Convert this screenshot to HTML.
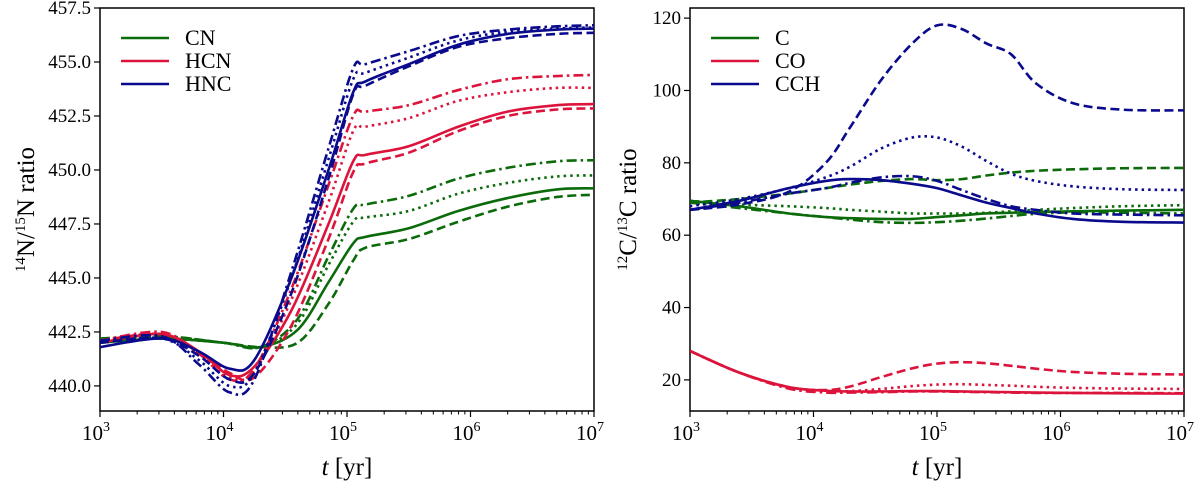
<!DOCTYPE html>
<html><head><meta charset="utf-8"><style>
body{margin:0;background:#fff;}
svg{font-family:"Liberation Serif",serif;}
</style></head><body>
<svg id="s" width="1200" height="484" xmlns="http://www.w3.org/2000/svg"></svg>
<script>
const xTicks=[3,4,5,6,7];
const leftYTicks=[440.0,442.5,445.0,447.5,450.0,452.5,455.0,457.5];
const rightYTicks=[20,40,60,80,100,120];
// left panel: 14N/15N
const cnSolidX=[3,3.5,4,4.3,4.6,4.85,5.05,5.15,5.5,5.9,6.3,6.7,7];
const cnSolidY=[442.0,442.2,442.0,441.8,442.6,444.8,446.6,446.9,447.3,448.1,448.7,449.1,449.15];
const cnDotY=[442.1,442.2,442.0,441.8,442.9,445.6,447.6,447.8,448.1,448.9,449.4,449.7,449.75];
const cnDashY=[442.1,442.3,442.0,441.8,442.0,443.8,445.8,446.4,446.8,447.6,448.3,448.75,448.85];
const cnDashDotY=[442.2,442.3,442.0,441.8,443.1,446.0,448.2,448.4,448.8,449.6,450.1,450.4,450.45];
const hcnX=[3,3.5,3.8,4.05,4.25,4.55,4.85,5.05,5.15,5.5,5.9,6.3,6.7,7];
const hcnSolidY=[442.0,442.4,441.6,440.5,440.9,443.5,447.5,450.4,450.7,451.1,452.0,452.7,453.0,453.05];
const hcnDotY=[442.1,442.4,441.5,440.4,440.7,444.0,448.5,451.8,452.0,452.4,453.2,453.6,453.8,453.8];
const hcnDashY=[442.1,442.4,441.6,440.6,440.4,442.8,446.8,449.9,450.3,450.8,451.8,452.5,452.8,452.85];
const hcnDashDotY=[442.1,442.5,441.5,440.3,440.8,444.5,449.3,452.5,452.7,453.0,453.7,454.2,454.35,454.4];
const hncX=[3,3.5,3.8,4.05,4.25,4.55,4.85,5.05,5.15,5.5,5.9,6.3,6.7,7];
const hncSolidY=[441.8,442.2,441.6,440.8,441.2,445.0,450.0,453.6,454.1,454.9,455.8,456.3,456.5,456.55];
const hncDotY=[442.0,442.2,441.2,440.0,440.6,445.0,450.5,454.2,454.5,455.2,456.0,456.4,456.55,456.6];
const hncDashY=[442.0,442.2,441.4,440.3,440.6,444.3,449.6,453.5,453.9,454.8,455.7,456.1,456.3,456.35];
const hncDashDotY=[442.1,442.3,441.0,439.7,440.3,445.3,451.0,454.7,454.9,455.5,456.2,456.5,456.65,456.7];
// right panel: 12C/13C
const rX=[3,3.4,3.8,4.1,4.3,4.55,4.8,5.0,5.2,5.4,5.6,5.8,6.1,6.5,7];
const cSolidY=[69.5,68,66,65,64.7,64.5,64.5,65,65.5,66,66.2,66.4,66.6,66.8,67];
const cDotY=[69.5,68.5,68,67.5,67,66.5,66,66,66,66.2,66.6,67,67.5,68,68.3];
const cDashY=[69,70,71.5,73,74,75,75.5,75.2,75.5,76.5,77.3,77.8,78.2,78.5,78.6];
const cDashDotY=[69,67.5,66,65,64.3,63.6,63.4,63.6,64,64.6,65.3,65.9,66.3,66.2,66];
const coSolidY=[28,22,18,17,16.8,16.8,16.9,16.9,16.8,16.7,16.6,16.5,16.4,16.3,16.2];
const coDotY=[28,22,18,17,16.9,17.5,18.3,18.7,18.8,18.6,18.4,18.1,17.8,17.6,17.5];
const coDashY=[28,22,18,17.2,18.2,20.8,23.2,24.5,24.9,24.6,23.9,23.1,22.2,21.7,21.5];
const coDashDotY=[28,22,17.6,16.5,16.5,16.6,16.8,16.8,16.7,16.6,16.5,16.4,16.4,16.4,16.3];
const cchSolidY=[67,69.5,73,75,75.5,75.2,74.2,73,71,69,67.5,66,64.5,63.7,63.5];
const cchDotY=[68,70,73,76,79,84,87,87,84.5,80.5,77,75,73.5,72.7,72.5];
const cchDashY=[67,68.5,72,80,90,103,113,118,117,113,110,102,96.5,94.7,94.5];
const cchDashDotY=[67,69,71.5,73,74.5,76,76.3,75,72.5,70,68,67,66,65.7,65.5];

const svg=document.getElementById('s');
const NS='http://www.w3.org/2000/svg';
function mk(tag,attrs,parent){const e=document.createElementNS(NS,tag);for(const k in attrs)e.setAttribute(k,attrs[k]);(parent||svg).appendChild(e);return e;}
const GREEN='#0b6b0b',RED='#dc143c',BLUE='#0a0a8c';
const dashes={solid:'',dot:'2.5,4',dash:'9,4.5',dashdot:'10,4,2.5,4'};

function panel(name,x0,x1,y0,y1,ymin,ymax,yTicks,yDec,ylabel,ylx){
  const g=mk('g',{});
  
  
  const sx=v=>x0+(v-3)/(7-3)*(x1-x0);
  const sy=v=>y1-(v-ymin)/(ymax-ymin)*(y1-y0);
  const ax=mk('rect',{x:x0,y:y0,width:x1-x0,height:y1-y0,fill:'none',stroke:'#000','stroke-width':1.5},g);
  
  
  xTicks.forEach(t=>{
    mk('line',{x1:sx(t),x2:sx(t),y1:y1,y2:y1+6,stroke:'#000','stroke-width':1.2},g);
    const tx=mk('text',{x:sx(t)-4,y:y1+29,'font-size':21,'text-anchor':'middle'},g);
    
    
    tx.innerHTML='10<tspan dy="-9" font-size="14">'+t+'</tspan>';
    if(t<7)for(let m=2;m<10;m++){const v=t+Math.log10(m);mk('line',{x1:sx(v),x2:sx(v),y1:y1,y2:y1+3.5,stroke:'#000','stroke-width':1},g);}
  });
  yTicks.forEach(t=>{
    mk('line',{x1:x0-6,x2:x0,y1:sy(t),y2:sy(t),stroke:'#000','stroke-width':1.2},g);
    const tx=mk('text',{x:x0-9,y:sy(t)+6,'font-size':19,'text-anchor':'end'},g);
    
    
    tx.textContent=t.toFixed(yDec);
  });
  const xl=mk('text',{x:(x0+x1)/2,y:475,'font-size':25,'text-anchor':'middle'},g);
  
  
  xl.innerHTML='<tspan font-style="italic">t</tspan> [yr]';
  const yl=mk('text',{transform:`translate(${ylx},${(y0+y1)/2}) rotate(-90)`,'font-size':25,'text-anchor':'middle'},g);
  
  
  yl.innerHTML=ylabel;
  const clip=mk('clipPath',{id:'c'+name},g);mk('rect',{x:x0,y:y0,width:x1-x0,height:y1-y0},clip);
  const lg=mk('g',{'clip-path':`url(#c${name})`},g);
  return {sx,sy,lg,g};
}
function path(P,xs,ys){
  const pts=xs.map((x,i)=>[P.sx(x),P.sy(ys[i])]);
  let d='M'+pts[0][0]+','+pts[0][1];
  for(let i=0;i<pts.length-1;i++){
    const p0=pts[Math.max(0,i-1)],p1=pts[i],p2=pts[i+1],p3=pts[Math.min(pts.length-1,i+2)];
    const c1=[p1[0]+(p2[0]-p0[0])/6,p1[1]+(p2[1]-p0[1])/6],c2=[p2[0]-(p3[0]-p1[0])/6,p2[1]-(p3[1]-p1[1])/6];
    d+=`C${c1[0]},${c1[1]} ${c2[0]},${c2[1]} ${p2[0]},${p2[1]}`;
  }
  return d;
}
function series(P,nm,xs,ys,color,style){
  const e=mk('path',{d:path(P,xs,ys),fill:'none',stroke:color,'stroke-width':2.6,'stroke-dasharray':dashes[style]},P.lg);
  
  
}
function legend(P,x,y,items){
  items.forEach((it,i)=>{
    const yy=y+i*23;
    const l=mk('line',{x1:x,x2:x+48,y1:yy,y2:yy,stroke:it[1],'stroke-width':2.6},P.g);
    
    
    const t=mk('text',{x:x+64,y:yy+7,'font-size':22},P.g);
    
    
    t.textContent=it[0];
  });
}
const L=panel('left-panel',100,594,8,411,438.84,457.5,leftYTicks,1,'<tspan dy="-9" font-size="15">14</tspan><tspan dy="9">N/</tspan><tspan dy="-9" font-size="15">15</tspan><tspan dy="9">N ratio</tspan>',34);
series(L,'cn-solid',cnSolidX,cnSolidY,GREEN,'solid');
series(L,'cn-dotted',cnSolidX,cnDotY,GREEN,'dot');
series(L,'cn-dashed',cnSolidX,cnDashY,GREEN,'dash');
series(L,'cn-dashdot',cnSolidX,cnDashDotY,GREEN,'dashdot');
series(L,'hcn-solid',hcnX,hcnSolidY,RED,'solid');
series(L,'hcn-dotted',hcnX,hcnDotY,RED,'dot');
series(L,'hcn-dashed',hcnX,hcnDashY,RED,'dash');
series(L,'hcn-dashdot',hcnX,hcnDashDotY,RED,'dashdot');
series(L,'hnc-solid',hncX,hncSolidY,BLUE,'solid');
series(L,'hnc-dotted',hncX,hncDotY,BLUE,'dot');
series(L,'hnc-dashed',hncX,hncDashY,BLUE,'dash');
series(L,'hnc-dashdot',hncX,hncDashDotY,BLUE,'dashdot');
legend(L,121,38,[['CN',GREEN],['HCN',RED],['HNC',BLUE]]);

const R=panel('right-panel',690,1184,8,411,11.4,122.8,rightYTicks,0,'<tspan dy="-9" font-size="15">12</tspan><tspan dy="9">C/</tspan><tspan dy="-9" font-size="15">13</tspan><tspan dy="9">C ratio</tspan>',636);
series(R,'c-solid',rX,cSolidY,GREEN,'solid');
series(R,'c-dotted',rX,cDotY,GREEN,'dot');
series(R,'c-dashed',rX,cDashY,GREEN,'dash');
series(R,'c-dashdot',rX,cDashDotY,GREEN,'dashdot');
series(R,'co-solid',rX,coSolidY,RED,'solid');
series(R,'co-dotted',rX,coDotY,RED,'dot');
series(R,'co-dashed',rX,coDashY,RED,'dash');
series(R,'co-dashdot',rX,coDashDotY,RED,'dashdot');
series(R,'cch-solid',rX,cchSolidY,BLUE,'solid');
series(R,'cch-dotted',rX,cchDotY,BLUE,'dot');
series(R,'cch-dashed',rX,cchDashY,BLUE,'dash');
series(R,'cch-dashdot',rX,cchDashDotY,BLUE,'dashdot');
legend(R,711,38,[['C',GREEN],['CO',RED],['CCH',BLUE]]);
</script>
</body></html>
